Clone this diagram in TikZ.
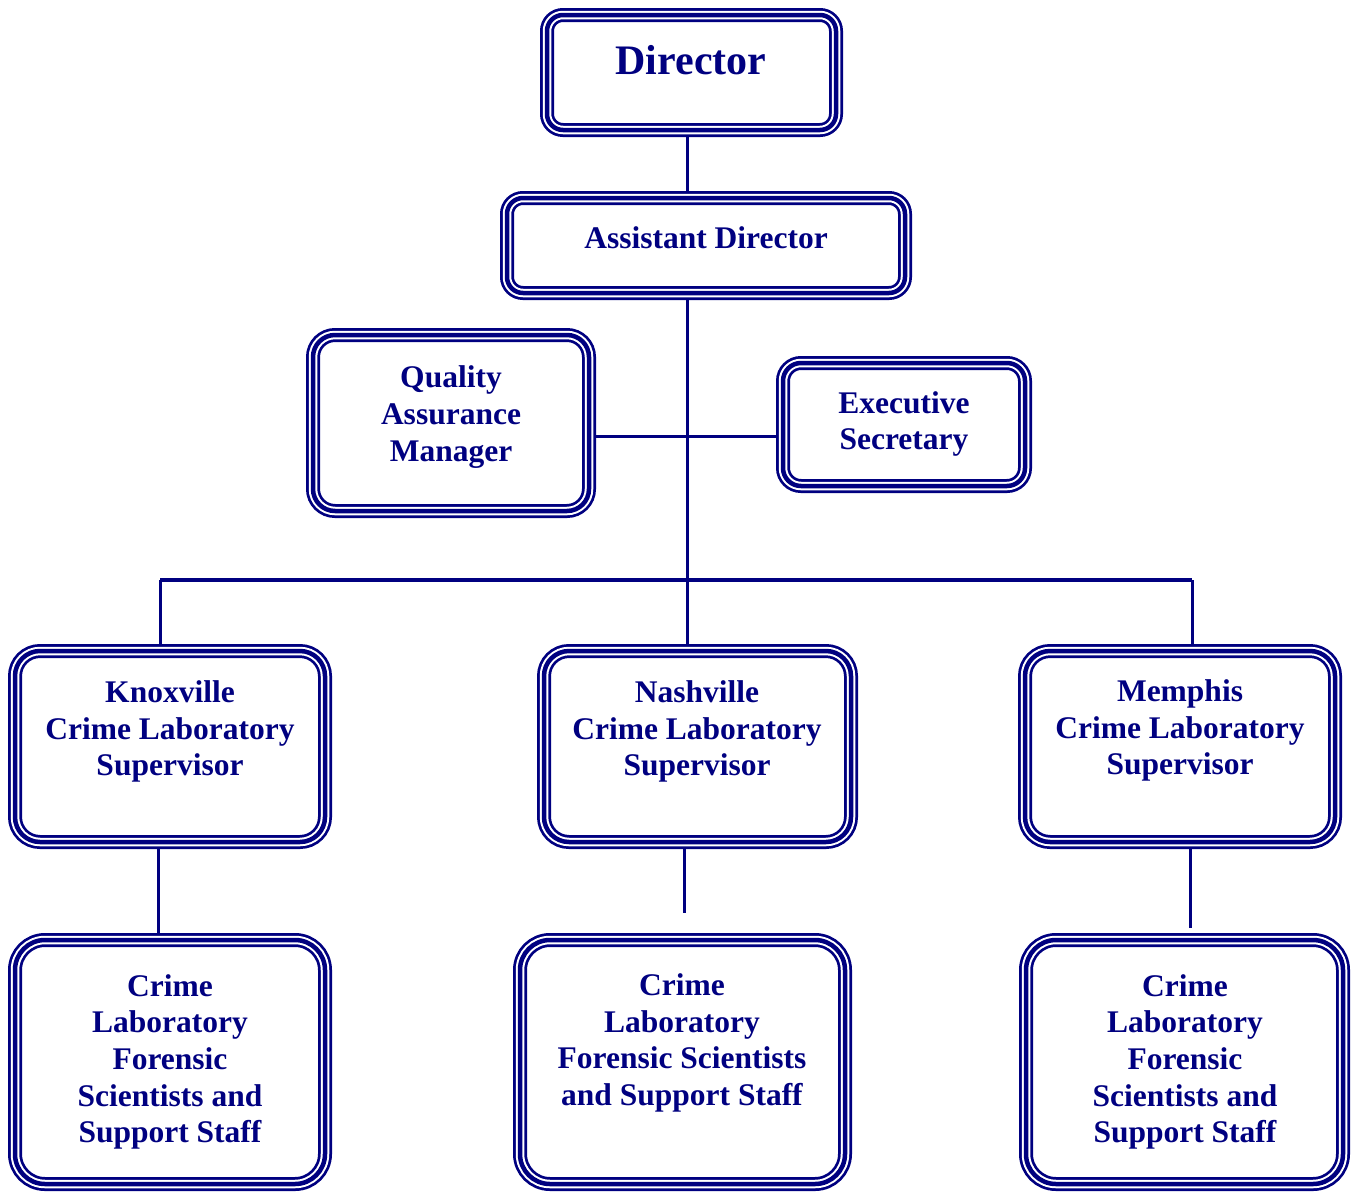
\documentclass[tikz,border=0pt]{standalone}
\usepackage{fontspec}
\setmainfont{Liberation Serif}
\definecolor{navyblue}{RGB}{0,0,128}
\tikzset{
  tribox/.style={rounded corners=#1, inner sep=0pt, outer sep=7pt,
    preaction={draw=navyblue, line width=14pt},
    preaction={draw=white, line width=8.5pt},
    draw=navyblue, line width=4.5pt},
  lbl/.style={text=navyblue, align=center, font=\bfseries\fontsize{31.5}{36.7}\selectfont},
  link/.style={navyblue, line width=3pt}
}
\begin{document}
\begin{tikzpicture}[x=1pt,y=-1pt]
  \useasboundingbox (0,0) rectangle (1354,1191);

  % Director -- Assistant Director
  \node[tribox=16, minimum width=289pt, minimum height=115pt] (dir) at (691.5,72.5) {};
  \node[lbl, font=\bfseries\fontsize{42}{48}\selectfont] (dirtxt) at (691,60) {Director};
  \node[tribox=16, minimum width=398pt, minimum height=95pt] (ad) at (706,245.5) {};
  \node[lbl] (adtxt) at (706,237.5) {Assistant Director};

  % staff beside the spine
  \node[tribox=22, minimum width=276pt, minimum height=176pt] (qam) at (451,423) {};
  \node[lbl] (qamtxt) at (451,417) {Quality\\Assurance\\Manager};
  \node[tribox=18, minimum width=242pt, minimum height=123pt] (es) at (904,424.5) {};
  \node[lbl] (estxt) at (904,424) {Executive\\Secretary};

  % laboratory supervisors
  \node[tribox=25, minimum width=310pt, minimum height=191pt] (knox) at (170,746.5) {};
  \node[lbl] (knoxtxt) at (170,731.5) {Knoxville\\Crime Laboratory\\Supervisor};
  \node[tribox=25, minimum width=307pt, minimum height=191pt] (nash) at (697.5,746.5) {};
  \node[lbl] (nashtxt) at (697,731.5) {Nashville\\Crime Laboratory\\Supervisor};
  \node[tribox=25, minimum width=310pt, minimum height=191pt] (mem) at (1180,746.5) {};
  \node[lbl] (memtxt) at (1180,730.5) {Memphis\\Crime Laboratory\\Supervisor};

  % scientists and support staff
  \node[tribox=30, minimum width=310pt, minimum height=244pt] (kstaff) at (170,1062) {};
  \node[lbl] (kstafftxt) at (170,1062) {Crime\\Laboratory\\Forensic\\Scientists and\\Support Staff};
  \node[tribox=30, minimum width=325pt, minimum height=244pt] (nstaff) at (682.5,1062) {};
  \node[lbl] (nstafftxt) at (682,1043) {Crime\\Laboratory\\Forensic Scientists\\and Support Staff};
  \node[tribox=30, minimum width=317pt, minimum height=244pt] (mstaff) at (1184.5,1062) {};
  \node[lbl] (mstafftxt) at (1185,1062) {Crime\\Laboratory\\Forensic\\Scientists and\\Support Staff};

  % connectors
  \coordinate (spine) at (687,580);
  \coordinate (staff) at (687,436);
  \coordinate (barl) at (160,580);
  \coordinate (barr) at (1192,580);
  \coordinate (nashend) at (684,913);
  \coordinate (memend) at (1190,928);

  \draw[link] (dir.south -| spine) -- (ad.north -| spine);
  \draw[link] (ad.south -| spine) -- (nash.north -| spine);
  \draw[link] (qam.east |- staff) -- (es.west |- staff);
  \draw[link, line width=3.5pt] (barl) -- (barr);
  \draw[link] (barl) -- (knox.north -| barl);
  \draw[link] (barr) -- (mem.north -| barr);
  \draw[link] ([xshift=-12pt]knox.south) -- ([xshift=-12pt]kstaff.north);
  \draw[link] (nash.south -| nashend) -- (nashend);
  \draw[link] (mem.south -| memend) -- (memend);
\end{tikzpicture}
\end{document}
